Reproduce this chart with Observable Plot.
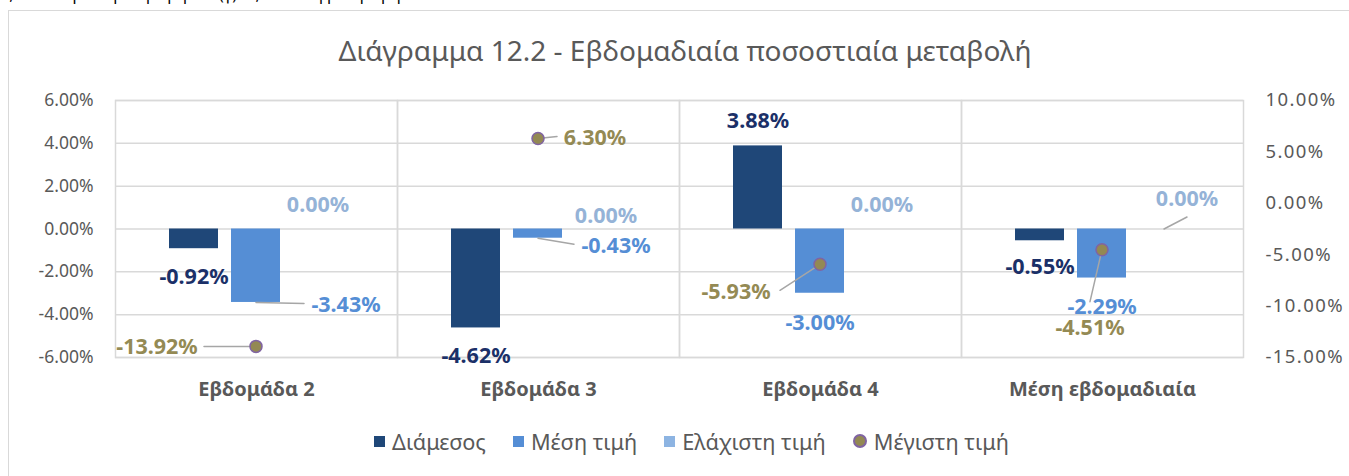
<!DOCTYPE html>
<html><head><meta charset="utf-8">
<script src="https://cdn.jsdelivr.net/npm/d3@7"></script>
<script src="https://cdn.jsdelivr.net/npm/@observablehq/plot@0.6"></script>
<style>
body{margin:0;background:#fff;font-family:"Noto Sans",sans-serif;width:1349px;height:476px;overflow:hidden;position:relative}
#note{position:absolute;left:0;top:-17px;font-size:16px;color:#000;white-space:nowrap}
#box{position:absolute;left:8px;top:10px;width:1360px;height:480px;border:1.5px solid #d9d9d9;box-sizing:border-box}
#title{position:absolute;left:0;width:1370px;top:30px;height:40px;line-height:40px;text-align:center;font-size:28px;color:#595959}
#chart{position:absolute;left:0;top:80px}
#legend{position:absolute;left:0;width:1383px;top:427px;height:28px;display:flex;justify-content:center;align-items:center;gap:27px;font-size:21.7px;color:#595959}
#legend span.item{display:flex;align-items:center;gap:7px}
#legend i{display:inline-block;width:11px;height:11px}
#legend i.dot{width:14px;height:14px;border-radius:50%;box-sizing:border-box;border:2px solid #8064a2;background:#938953}
</style></head>
<body>
<div id="note">2,55% στην διάμεση τιμή και (γ) -3,43% στη μέση τιμή.</div>
<div id="box"></div>
<div id="title">Διάγραμμα 12.2 - Εβδομαδιαία ποσοστιαία μεταβολή</div>
<div id="chart"></div>
<div id="legend"></div>
<script>
// ---- data ----
const categories = ["Εβδομάδα 2", "Εβδομάδα 3", "Εβδομάδα 4", "Μέση εβδομαδιαία"];
const seriesNames = ["Διάμεσος", "Μέση τιμή", "Ελάχιστη τιμή", "Μέγιστη τιμή"];
const median  = [-0.92, -4.62, 3.88, -0.55];
const mean    = [-3.43, -0.43, -3.00, -2.29];
const minimum = [0.00, 0.00, 0.00, 0.00];
const maximum = [-13.92, 6.30, -5.93, -4.51];   // secondary (right) axis
const leftTicks  = [-6, -4, -2, 0, 2, 4, 6];
const rightTicks = [-15, -10, -5, 0, 5, 10];

// ---- style ----
const barColors  = ["#1f4778", "#558ed5", "#8db4e2"];
const labelColors = ["#1b3068", "#558ed5", "#95b3d7", "#948a54"];
const leftDomain = [-6, 6], rightDomain = [-15, 10];

// label offsets (pixels from the data point) per series, per category
const labelOffsets = [
  [[0, 28], [0, 28], [0, -25], [0, 26]],
  [[90, 3], [78, 8], [0, 30], [0, 29]],
  [[0, -24], [6, -13], [0, -24], [23, -30]],
  [[-99, 1], [57, 0], [-84, 28], [-12, 78]]
];
// leader lines: [series, category, endDx, endDy]
const leaderLayout = [
  [1, 0, 48, 1], [1, 1, 36, 6], [2, 3, 23, -12],
  [3, 0, -52, 0], [3, 1, 19, -2], [3, 2, -40, 26], [3, 3, -12, 52]
];

const toLeft = v => leftDomain[0] + (v - rightDomain[0]) * (leftDomain[1] - leftDomain[0]) / (rightDomain[1] - rightDomain[0]);
const fromLeft = v => rightDomain[0] + (v - leftDomain[0]) * (rightDomain[1] - rightDomain[0]) / (leftDomain[1] - leftDomain[0]);
const fmt = v => { const r = Math.round(v * 100) / 100; return (r === 0 ? 0 : r).toFixed(2) + "%"; };

const values = [median, mean, minimum, maximum];
const rows = [];
categories.forEach((c, ci) => values.forEach((arr, si) => {
  rows.push({cat: c, ci, si, s: seriesNames[si], xs: si === 3 ? seriesNames[1] : seriesNames[si],
    v: arr[ci], y: si === 3 ? toLeft(arr[ci]) : arr[ci]});
}));
const barRows = rows.filter(d => d.si < 3);
const maxRows = rows.filter(d => d.si === 3);

const leaderRows = leaderLayout.map(([si, ci, ex, ey]) => {
  const r = rows.find(d => d.si === si && d.ci === ci);
  return {...r, len: Math.hypot(ex, ey), rot: Math.atan2(ex, -ey) * 180 / Math.PI};
});
const lineShape = {draw(ctx, l) { ctx.moveTo(0, 0); ctx.lineTo(0, -l); }};

const labelMarks = rows.map(r => {
  const [dx, dy] = labelOffsets[r.si][r.ci];
  return Plot.text([r], {fx: "cat", x: "xs", y: "y", text: d => fmt(d.v), dx, dy,
    fill: labelColors[r.si], fontWeight: "bold", fontSize: 21.5});
});

const chart = Plot.plot({
  width: 1349, height: 322,
  marginLeft: 113, marginRight: 105, marginTop: 20, marginBottom: 45,
  style: {fontFamily: "Noto Sans", background: "transparent"},
  fx: {domain: categories, padding: 0, label: null},
  x: {domain: seriesNames.slice(0, 3), paddingInner: 0.206, paddingOuter: 0.85, axis: null},
  y: {domain: leftDomain},
  color: {domain: seriesNames.slice(0, 3), range: barColors},
  length: {domain: [0, 100], range: [0, 100]},
  marks: [
    Plot.gridY(leftTicks, {stroke: "#d9d9d9", strokeOpacity: 1, strokeWidth: 1.5}),
    Plot.frame({stroke: "#d9d9d9", strokeWidth: 1.5}),
    Plot.axisY(leftTicks, {anchor: "left", tickSize: 0, tickPadding: 22, tickFormat: fmt, fontSize: 17.5, fill: "#595959", label: null}),
    Plot.axisY(rightTicks.map(toLeft), {anchor: "right", tickSize: 0, tickPadding: 22, tickFormat: d => fmt(fromLeft(d)), fontSize: 18.5, fill: "#595959", label: null}),
    Plot.axisFx({anchor: "bottom", tickSize: 0, tickPadding: 24, fontWeight: "bold", fontSize: 20, fill: "#595959", label: null}),
    Plot.barY(barRows, {fx: "cat", x: "s", y: "v", fill: "s"}),
    Plot.vector(leaderRows, {fx: "cat", x: "xs", y: "y", length: "len", rotate: "rot", anchor: "start", shape: lineShape, stroke: "#a6a6a6", strokeWidth: 1.5}),
    Plot.dot(maxRows, {fx: "cat", x: "xs", y: "y", r: 6, fill: "#938953", stroke: "#8064a2", strokeWidth: 1.5}),
    ...labelMarks
  ]
});
document.getElementById("chart").appendChild(chart);
// the right-hand axis labels are drawn wider in the original
chart.querySelectorAll("text").forEach(t => {
  if (t.getBoundingClientRect().left > 1250) t.style.letterSpacing = "1.4px";
});

// legend
const legend = document.getElementById("legend");
seriesNames.forEach((name, i) => {
  const it = document.createElement("span");
  it.className = "item";
  const sw = document.createElement("i");
  if (i === 3) sw.className = "dot"; else sw.style.background = barColors[i];
  it.appendChild(sw);
  it.appendChild(document.createTextNode(name));
  legend.appendChild(it);
});
</script>
</body></html>
